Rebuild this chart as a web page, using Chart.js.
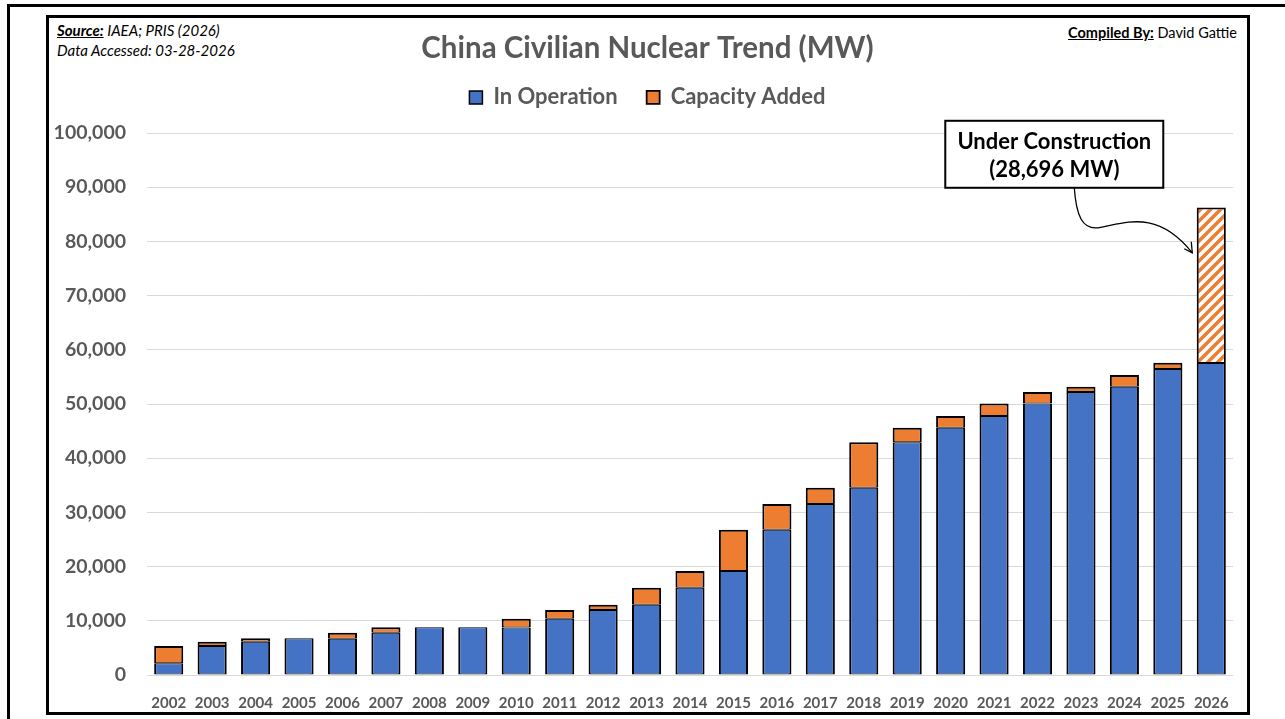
<!DOCTYPE html>
<html>
<head>
<meta charset="utf-8">
<script src="https://cdn.jsdelivr.net/npm/chart.js@4"></script>
<style>
  html, body { margin: 0; padding: 0; background: #fff; overflow: hidden; }
  body { width: 1285px; height: 719px; position: relative; font-family: Lato, "Open Sans", sans-serif; }
  .outer { position: absolute; left: 7px; top: 4px; width: 1400px; height: 800px; border: 3px solid #000; box-sizing: border-box; }
  .inner { position: absolute; left: 46px; top: 15px; width: 1204px; height: 700px; border: 3px solid #000; box-sizing: border-box; }
  .note { position: absolute; font-size: 15px; color: #000; line-height: 20px; white-space: nowrap; }
  .note b { text-decoration: underline; }
  #src { left: 57px; top: 20px; font-style: italic; }
  #by { right: 48px; top: 23px; font-size: 14.5px; }
  canvas { position: absolute; left: 0; top: 0; }
</style>
</head>
<body>
<div class="outer"></div>
<div class="inner"></div>
<div class="note" id="src"><b>Source:</b> IAEA; PRIS (2026)<br>Data Accessed: 03-28-2026</div>
<div class="note" id="by"><b>Compiled By:</b> David Gattie</div>
<canvas id="nuke" width="1285" height="719"></canvas>
<script>
const years = ["2002","2003","2004","2005","2006","2007","2008","2009","2010","2011","2012","2013",
  "2014","2015","2016","2017","2018","2019","2020","2021","2022","2023","2024","2025","2026"];
const inOperation = [2188, 5360, 6140, 6770, 6700, 7800, 8800, 8800, 8750, 10390, 11990, 12970,
  16100, 19200, 26800, 31550, 34560, 42950, 45600, 47800, 50100, 52200, 53200, 56450, 57560];
const capacityAdded = [3160, 780, 630, 0, 1100, 1000, 0, 0, 1640, 1600, 980, 3130,
  3100, 7600, 4750, 3010, 8390, 2650, 2200, 2300, 2100, 1000, 2150, 1170, 0];
const underConstruction = [null, null, null, null, null, null, null, null, null, null, null, null,
  null, null, null, null, null, null, null, null, null, null, null, null, 28696];
const yTicks = [0, 10000, 20000, 30000, 40000, 50000, 60000, 70000, 80000, 90000, 100000];

const BLUE = "#4472C4", ORANGE = "#ED7D31", GREY = "#595959";
const FONT = "Lato, 'Open Sans', sans-serif";

// diagonal orange stripes for the under-construction bar
function hatch() {
  const c = document.createElement("canvas");
  c.width = 10; c.height = 10;
  const g = c.getContext("2d");
  g.fillStyle = "#fff"; g.fillRect(0, 0, 10, 10);
  g.strokeStyle = ORANGE; g.lineWidth = 3.5;
  g.beginPath();
  g.moveTo(-2, 12); g.lineTo(12, -2);
  g.moveTo(-2, 2); g.lineTo(2, -2);
  g.moveTo(8, 12); g.lineTo(12, 8);
  g.stroke();
  return g.createPattern(c, "repeat");
}

let legendExtra = 0;
const legendGap = {
  id: "legendGap",
  beforeInit(chart) {
    const fit = chart.legend.fit;
    chart.legend.fit = function () {
      fit.bind(chart.legend)();
      this.height += legendExtra;
    };
  },
  // centre title and legend on the framed panel, not on the whole canvas
  afterLayout(chart) {
    chart.titleBlock.left = 62;
    chart.legend.left = 62;
  }
};

// callout box + curved arrow
const callout = {
  id: "callout",
  afterDraw(chart) {
    const ctx = chart.ctx;
    const xs = chart.scales.x, ys = chart.scales.y;
    const tipX = xs.getPixelForValue(years.length - 1) - 19;
    const tipY = ys.getPixelForValue(77900);
    const bx = tipX - 247, by = tipY - 132, bw = 218, bh = 67;
    ctx.save();
    ctx.fillStyle = "#fff";
    ctx.fillRect(bx, by, bw, bh);
    ctx.strokeStyle = "#000";
    ctx.lineWidth = 2;
    ctx.strokeRect(bx, by, bw, bh);
    ctx.fillStyle = "#000";
    ctx.font = "bold 22px " + FONT;
    ctx.textAlign = "center";
    ctx.textBaseline = "middle";
    ctx.fillText("Under Construction", bx + bw / 2, by + 21);
    ctx.fillText("(28,696 MW)", bx + bw / 2, by + 49);

    const sx = bx + 129, sy = by + bh;
    ctx.lineWidth = 1.3;
    ctx.beginPath();
    ctx.moveTo(sx, sy);
    ctx.bezierCurveTo(sx + 2, sy + 28, sx + 8, sy + 42, sx + 24, sy + 40);
    ctx.bezierCurveTo(sx + 50, sy + 36, sx + 82, sy + 20, tipX, tipY);
    ctx.stroke();
    ctx.beginPath();
    ctx.moveTo(tipX - 8, tipY - 4);
    ctx.lineTo(tipX, tipY);
    ctx.lineTo(tipX - 1, tipY - 11);
    ctx.stroke();
    ctx.restore();
  }
};

const chart = new Chart(document.getElementById("nuke"), {
  type: "bar",
  data: {
    labels: years,
    datasets: [
      {
        label: "In Operation",
        data: inOperation,
        backgroundColor: BLUE,
        borderColor: "#000",
        borderWidth: { top: 1, left: 2, right: 2, bottom: 1 },
        borderSkipped: false
      },
      {
        label: "Capacity Added",
        data: capacityAdded,
        backgroundColor: ORANGE,
        borderColor: "#000",
        borderWidth: { top: 2, left: 2, right: 2, bottom: 1 },
        borderSkipped: false
      },
      {
        label: "Under Construction",
        data: underConstruction,
        backgroundColor: hatch(),
        borderColor: "#000",
        borderWidth: { top: 2, left: 2, right: 2, bottom: 1 },
        borderSkipped: false
      }
    ]
  },
  options: {
    responsive: false,
    animation: false,
    events: [],
    layout: { padding: { left: 0, right: 52, top: 0, bottom: 0 } },
    datasets: { bar: { barPercentage: 0.67, categoryPercentage: 1 } },
    plugins: {
      title: {
        display: true,
        text: "China Civilian Nuclear Trend (MW)",
        color: GREY,
        font: { family: FONT, size: 29.5, weight: "bold" },
        padding: { top: 31, bottom: -9 }
      },
      legend: {
        display: true,
        labels: {
          color: GREY,
          font: { family: FONT, size: 22, weight: "bold" },
          boxWidth: 13,
          boxHeight: 13,
          padding: 29,
          filter: item => item.datasetIndex < 2
        }
      },
      tooltip: { enabled: false }
    },
    scales: {
      x: {
        stacked: true,
        grid: { display: false },
        border: { display: false },
        ticks: {
          color: GREY,
          font: { family: FONT, size: 15, weight: "bold" },
          padding: 11,
          maxRotation: 0,
          autoSkip: false
        },
        afterFit(scale) { scale.height = 44; }
      },
      y: {
        stacked: true,
        min: 0,
        max: 100000,
        afterBuildTicks(scale) { scale.ticks = yTicks.map(v => ({ value: v })); },
        grid: { color: "#d9d9d9", lineWidth: 1, drawTicks: false },
        border: { display: false },
        ticks: {
          color: GREY,
          font: { family: FONT, size: 19.5, weight: "bold" },
          padding: 21,
          callback: v => v.toLocaleString("en-US")
        },
        afterFit(scale) { scale.width = 147; }
      }
    }
  },
  plugins: [legendGap, callout]
});

// push the plot top down to where the reference has its 100,000 line
const gap = 133 - chart.chartArea.top;
if (Math.abs(gap) > 0.5) {
  legendExtra += gap;
  chart.update();
}
</script>
</body>
</html>
